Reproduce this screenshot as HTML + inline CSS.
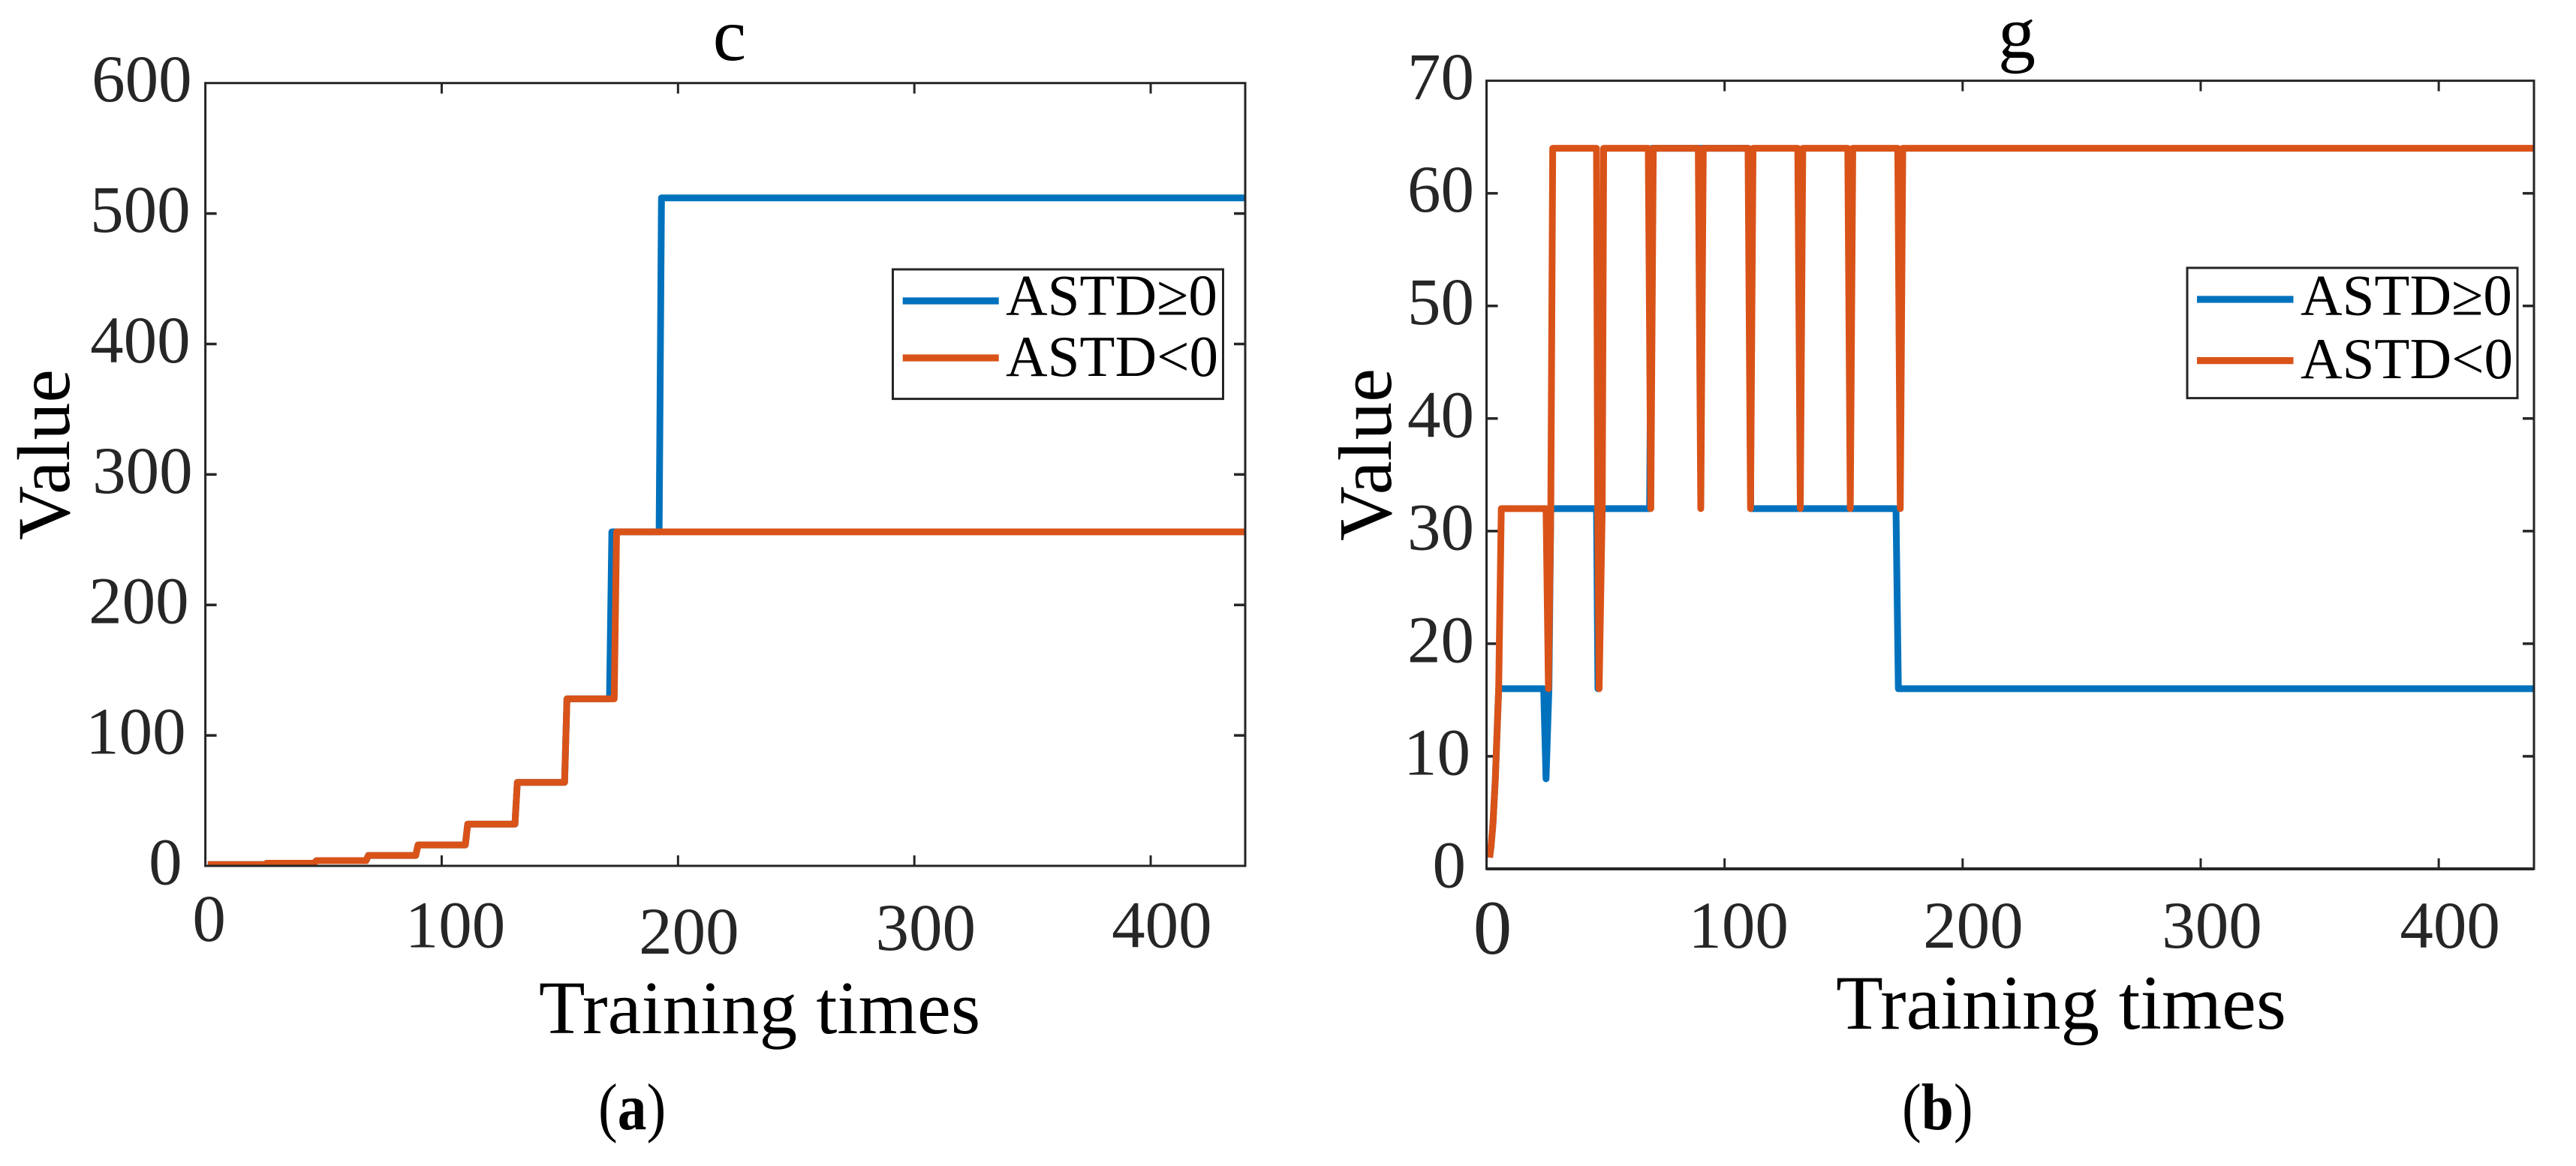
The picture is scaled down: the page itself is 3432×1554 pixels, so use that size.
<!DOCTYPE html>
<html lang="en">
<head>
<meta charset="utf-8">
<title>ASTD training charts</title>
<style>
html,body{margin:0;padding:0;background:#fff;width:3432px;height:1554px;overflow:hidden}
svg{display:block;font-family:"Liberation Serif",serif}
.tick-label{font-size:89px;fill:#262626}
.axis-title{font-size:100px;fill:#000}
.legend-text{font-size:77px;fill:#000}
.caption{font-size:88px;fill:#000}
</style>
</head>
<body>
<svg id="figure" xmlns="http://www.w3.org/2000/svg" width="3432" height="1554" viewBox="0 0 3432 1554">
  <defs>
    <clipPath id="clip-c"><rect x="273.6" y="110.7" width="1385.4" height="1043.3"/></clipPath>
    <clipPath id="clip-g"><rect x="1980.5" y="107.6" width="1395.5" height="1050.4"/></clipPath>
  </defs>

  <g id="chart-c">
    <text x="972" y="80" text-anchor="middle" class="axis-title">c</text>
    <text transform="translate(92,606) rotate(-90)" text-anchor="middle" class="axis-title">Value</text>
    <text x="1012" y="1377" text-anchor="middle" style="font-size:101px" class="axis-title">Training times</text>
  </g>

  <g id="chart-g">
    <text x="2687" y="77" text-anchor="middle" class="axis-title">g</text>
    <text transform="translate(1853,606) rotate(-90)" text-anchor="middle" style="font-size:101px" class="axis-title">Value</text>
    <text x="2746" y="1371" text-anchor="middle" style="font-size:103px" class="axis-title">Training times</text>
  </g>

  <g id="legend-c">
    <rect x="1189.5" y="359" width="440" height="172.6" fill="#fff" stroke="#262626" stroke-width="3"/>
    <line x1="1202.7" x2="1330.7" y1="401" y2="401" stroke="#0072BD" stroke-width="9.3"/>
    <text x="1340" y="419.4" class="legend-text">ASTD≥0</text>
    <line x1="1202.7" x2="1330.7" y1="477" y2="477" stroke="#D95319" stroke-width="9.3"/>
    <text x="1340" y="501" class="legend-text">ASTD&lt;0</text>
  </g>

  <g id="legend-g">
    <rect x="2914" y="357" width="440" height="173.6" fill="#fff" stroke="#262626" stroke-width="3"/>
    <line x1="2927" x2="3055.5" y1="399" y2="399" stroke="#0072BD" stroke-width="9.3"/>
    <text x="3065" y="419.4" class="legend-text">ASTD≥0</text>
    <line x1="2927" x2="3055.5" y1="480.6" y2="480.6" stroke="#D95319" stroke-width="9.3"/>
    <text x="3065" y="504" class="legend-text">ASTD&lt;0</text>
  </g>

  <text transform="translate(797,1505) scale(0.88,1)" class="caption">(<tspan font-weight="bold">a</tspan>)</text>
  <text transform="translate(2534,1505) scale(0.88,1)" class="caption">(<tspan font-weight="bold">b</tspan>)</text>
</svg>

<script>
// ---- chart c data ----
const xTicks = [0, 100, 200, 300, 400];
const cYTicks = [0, 100, 200, 300, 400, 500, 600];
const cPositiveTimes = [1, 25, 26, 46, 47, 68, 69, 89, 90, 110, 111, 131, 132, 152, 153, 171, 172, 192, 193, 440];
const cPositiveValues = [1, 1, 2, 2, 4, 4, 8, 8, 16, 16, 32, 32, 64, 64, 128, 128, 256, 256, 512, 512];
const cNegativeTimes = [1, 25, 26, 46, 47, 68, 69, 89, 90, 110, 111, 131, 132, 152, 153, 173, 174, 440];
const cNegativeValues = [1, 1, 2, 2, 4, 4, 8, 8, 16, 16, 32, 32, 64, 64, 128, 128, 256, 256];

// ---- chart g data ----
const gYTicks = [0, 10, 20, 30, 40, 50, 60, 70];
const gPositiveTimes = [1.3, 1.9, 2.7, 3.7, 5.1, 24, 25, 26.2, 27, 46.2, 46.8, 47.5, 68.5, 69.5, 110, 111, 172, 173, 440];
const gPositiveValues = [1, 2, 4, 8, 16, 16, 8, 16, 32, 32, 16, 32, 32, 64, 64, 32, 32, 16, 16];
const gNegativeTimes = [1.3, 1.9, 2.7, 3.7, 5.1, 6.2, 25, 26, 27, 27.8, 46.2, 46.7, 47.3, 48.6, 49.2, 67.95, 69, 70.05, 88.95, 90, 91.05, 109.85, 110.9, 111.95, 130.75, 131.8, 132.85, 151.75, 152.8, 153.85, 172.75, 173.8, 174.85, 440];
const gNegativeValues = [1, 2, 4, 8, 16, 32, 32, 16, 32, 64, 64, 32, 16, 32, 64, 64, 32, 64, 64, 32, 64, 64, 32, 64, 64, 32, 64, 64, 32, 64, 64, 32, 64, 64];

const NS = 'http://www.w3.org/2000/svg';
const INK = '#262626';

function make(parent, tag, attrs) {
  const el = document.createElementNS(NS, tag);
  for (const k in attrs) el.setAttribute(k, attrs[k]);
  parent.appendChild(el);
  return el;
}

function drawChart(cfg) {
  const root = document.getElementById(cfg.id);
  const sx = v => cfg.left + (v / cfg.xMax) * (cfg.right - cfg.left);
  const sy = v => cfg.bottom - (v / cfg.yMax) * (cfg.bottom - cfg.top);

  // y ticks and labels
  cfg.yTicks.forEach((v, i) => {
    if (v > 0 && v < cfg.yMax) {
      const tl = make(root, 'line', {x1: cfg.left, x2: cfg.left + 15, y1: sy(v), y2: sy(v), stroke: INK, 'stroke-width': 3.5});
      
      
      const tr = make(root, 'line', {x1: cfg.right - 15, x2: cfg.right, y1: sy(v), y2: sy(v), stroke: INK, 'stroke-width': 3.5});
      
      
    }
    const lab = make(root, 'text', {x: cfg.left - cfg.yLabelGap[i], y: sy(v) + 24.5, 'text-anchor': 'end', class: 'tick-label'});
    lab.textContent = v;
    
    
  });

  // x ticks and labels
  xTicks.forEach((v, i) => {
    if (v > 0) {
      const tb = make(root, 'line', {x1: sx(v), x2: sx(v), y1: cfg.bottom, y2: cfg.bottom - 14, stroke: INK, 'stroke-width': 3});
      
      
      const tt = make(root, 'line', {x1: sx(v), x2: sx(v), y1: cfg.top, y2: cfg.top + 14, stroke: INK, 'stroke-width': 3});
      
      
    }
    const lab = make(root, 'text', {x: sx(v) + cfg.xLabelDx[i], y: cfg.bottom + cfg.xLabelDy[i], 'text-anchor': 'middle', class: 'tick-label'});
    if (cfg.xZeroSize && v === 0) lab.style.fontSize = cfg.xZeroSize + 'px';
    lab.textContent = v;
    
    
  });

  // series
  const toPoints = (xs, ys) => xs.map((x, i) => sx(x).toFixed(2) + ',' + sy(ys[i]).toFixed(2)).join(' ');
  const pos = make(root, 'polyline', {points: toPoints(cfg.posX, cfg.posY), fill: 'none', stroke: '#0072BD', 'stroke-width': 9, 'stroke-linejoin': 'round', 'clip-path': 'url(#' + cfg.clip + ')'});
  
  
  const neg = make(root, 'polyline', {points: toPoints(cfg.negX, cfg.negY), fill: 'none', stroke: '#D95319', 'stroke-width': 9, 'stroke-linejoin': 'round', 'clip-path': 'url(#' + cfg.clip + ')'});
  
  

  // axes frame
  const frame = make(root, 'rect', {x: cfg.left, y: cfg.top, width: cfg.right - cfg.left, height: cfg.bottom - cfg.top, fill: 'none', stroke: INK, 'stroke-width': 3});
  
  
  const base = make(root, 'line', {x1: cfg.left, x2: cfg.right, y1: cfg.bottom, y2: cfg.bottom, stroke: INK, 'stroke-width': cfg.baseWidth});
  
  
}

drawChart({
  id: 'chart-c', clip: 'clip-c', left: 273.6, right: 1659, top: 110.7, bottom: 1154, xMax: 440, yMax: 600, baseWidth: 3,
  yTicks: cYTicks, posX: cPositiveTimes, posY: cPositiveValues, negX: cNegativeTimes, negY: cNegativeValues,
  yLabelGap: [31, 26, 22, 17, 20, 20, 18],
  xLabelDx: [5, 18, 14.6, 15, 14.8],
  xLabelDy: [100, 108.5, 117, 112, 108.5]
});

drawChart({
  id: 'chart-g', clip: 'clip-g', left: 1980.5, right: 3376, top: 107.6, bottom: 1158, xMax: 440, yMax: 70, baseWidth: 4,
  yTicks: gYTicks, posX: gPositiveTimes, posY: gPositiveValues, negX: gNegativeTimes, negY: gNegativeValues,
  yLabelGap: [27.5, 21.5, 16.5, 16.5, 16.5, 16.5, 16.5, 16.5],
  xLabelDx: [8, 18.5, 14, 15, 15],
  xLabelDy: [113, 105, 105, 105, 105],
  xZeroSize: 103
});

// keep the legends above the plotted series
const figure = document.getElementById('figure');
figure.appendChild(document.getElementById('legend-c'));
figure.appendChild(document.getElementById('legend-g'));
</script>
</body>
</html>
